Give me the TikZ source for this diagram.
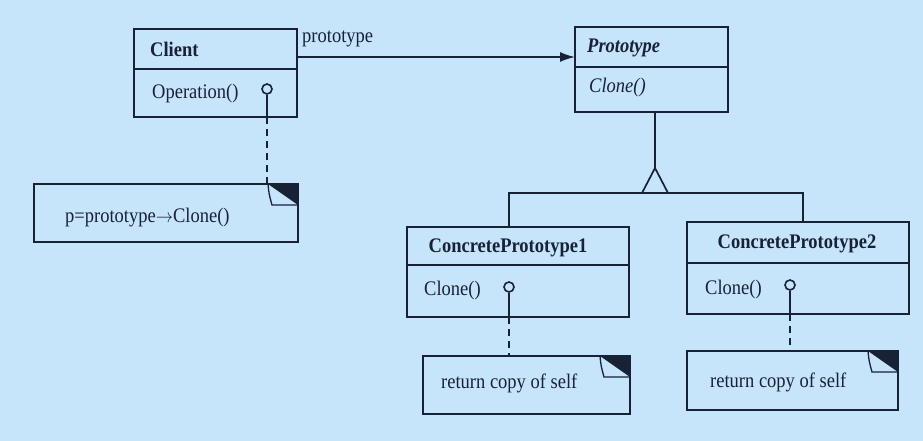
\documentclass[tikz,border=0pt]{standalone}
\usepackage{fontspec}
\setmainfont{Liberation Serif}
\usetikzlibrary{arrows.meta}
\definecolor{bg}{RGB}{198,228,250}
\definecolor{lc}{RGB}{24,34,54}
\newcommand{\tallish}[1]{\scalebox{1}[1.12]{#1}}
\begin{document}
\begin{tikzpicture}[x=1pt,y=-1pt,
  box/.style={draw=lc, line width=1.7pt, anchor=north west, inner sep=0pt, outer sep=0pt},
  txt/.style={text=lc, inner sep=0pt, font=\fontsize{18.5}{20}\selectfont},
  lolli/.style={circle, draw=lc, line width=1.6pt, minimum size=10pt, inner sep=0pt},
  wire/.style={draw=lc, line width=1.7pt},
  dashwire/.style={draw=lc, line width=1.7pt, dash pattern=on 7pt off 5pt},
  dogear/.pic={
    \fill[lc] (0,0) -- (-30,0) -- (0,21) -- cycle;
    \draw[lc, line width=1.3pt] (-30,0) .. controls (-29,10) .. (-26,21) -- (0,21);
  }]
\fill[bg] (0,0) rectangle (923,441);
\useasboundingbox (0,0) rectangle (923,441);

% Client
\node[box, minimum width=163pt, minimum height=40pt] (clientT) at (134,29) {};
\node[box, minimum width=163pt, minimum height=48pt] (clientB) at (134,69) {};
\node[txt, anchor=west] (clientN) at (150,49) {\tallish{\bfseries Client}};
\node[txt, anchor=west] (clientOp) at (152,94) {\tallish{Operation()}};
\node[lolli] (l1) at (267,89) {};

% Note 1
\node[box, minimum width=264pt, minimum height=58pt] (n1) at (34,184) {};
\pic at (n1.north east) {dogear};
\node[txt, anchor=west] (n1t) at (65,218) {\tallish{p=prototype$\rightarrow$Clone()}};

% Prototype
\node[box, minimum width=153pt, minimum height=40pt] (protoT) at (575,27) {};
\node[box, minimum width=153pt, minimum height=45pt] (protoB) at (575,67) {};
\node[txt, anchor=west] (protoN) at (587,48) {\tallish{\bfseries\itshape Prototype}};
\node[txt, anchor=west] (protoOp) at (589,88) {\tallish{\itshape Clone()}};

% association
\coordinate (a1) at (297,57);
\draw[wire, -{Latex[length=15pt,width=10pt]}] (a1) -- (a1 -| protoT.west);
\node[txt, anchor=west] (assoc) at (302,39) {\tallish{prototype}};

% ConcretePrototype1
\node[box, minimum width=222pt, minimum height=38pt] (c1T) at (407,227) {};
\node[box, minimum width=222pt, minimum height=52pt] (c1B) at (407,265) {};
\node[txt] (c1N) at (508,248) {\tallish{\bfseries ConcretePrototype1}};
\node[txt, anchor=west] (c1Op) at (424,291) {\tallish{Clone()}};
\node[lolli] (l2) at (509,287) {};

% ConcretePrototype2
\node[box, minimum width=222pt, minimum height=41pt] (c2T) at (687,222) {};
\node[box, minimum width=222pt, minimum height=51pt] (c2B) at (687,263) {};
\node[txt] (c2N) at (797,244) {\tallish{\bfseries ConcretePrototype2}};
\node[txt, anchor=west] (c2Op) at (705,290) {\tallish{Clone()}};
\node[lolli] (l3) at (790,285) {};

% Notes 2 and 3
\node[box, minimum width=207pt, minimum height=58pt] (n2) at (423,356) {};
\pic at (n2.north east) {dogear};
\node[txt, anchor=west] (n2t) at (441,383) {\tallish{return copy of self}};
\node[box, minimum width=211pt, minimum height=59pt] (n3) at (687,351) {};
\pic at (n3.north east) {dogear};
\node[txt, anchor=west] (n3t) at (710,382) {\tallish{return copy of self}};

% generalization
\coordinate (apex) at (655,168);
\coordinate (gl) at (509,193);
\coordinate (gr) at (803,193);
\draw[wire] (apex |- protoB.south) -- (apex);
\draw[wire, line join=miter] (apex) -- (642,193) -- (668,193) -- cycle;
\draw[wire] (gl |- c1T.north) -- (gl) -- (gr) -- (gr |- c2T.north);

% lollipop stems
\draw[wire] (l1.south) -- (l1.south |- clientB.south);
\draw[dashwire] (l1.south |- clientB.south) -- (l1.south |- n1.north);
\draw[wire] (l2.south) -- (l2.south |- c1B.south);
\draw[dashwire] (l2.south |- c1B.south) -- (l2.south |- n2.north);
\draw[wire] (l3.south) -- (l3.south |- c2B.south);
\draw[dashwire] (l3.south |- c2B.south) -- (l3.south |- n3.north);
\end{tikzpicture}
\end{document}
